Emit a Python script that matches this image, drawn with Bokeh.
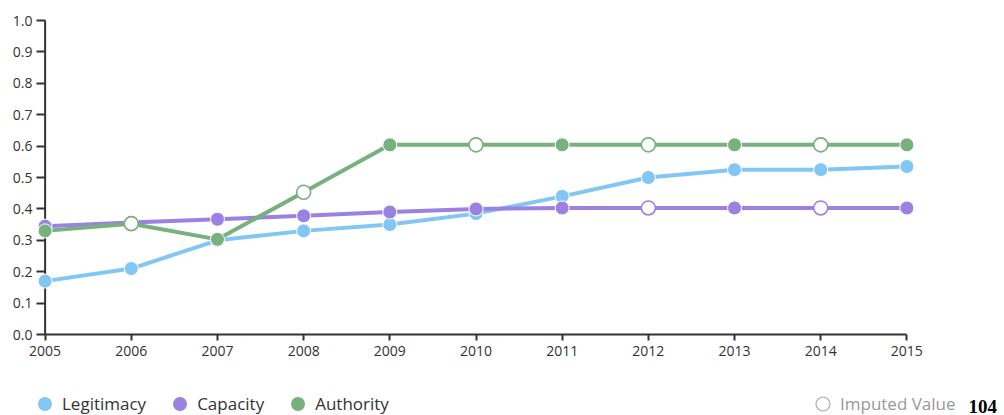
from bokeh.plotting import figure
from bokeh.layouts import column
from bokeh.models import (Range1d, Span, Legend, LegendItem, Label,
                          ColumnDataSource, FixedTicker, PrintfTickFormatter)
from bokeh.embed import file_html
from bokeh.resources import INLINE

# ---------------- data ----------------
years = [2005, 2006, 2007, 2008, 2009, 2010, 2011, 2012, 2013, 2014, 2015]
legitimacy = [0.17, 0.21, 0.30, 0.33, 0.35, 0.385, 0.44, 0.50, 0.525, 0.525, 0.535]
capacity = [0.345, 0.357, 0.367, 0.378, 0.39, 0.40, 0.403, 0.403, 0.403, 0.403, 0.403]
authority = [0.33, 0.353, 0.303, 0.453, 0.604, 0.604, 0.604, 0.604, 0.604, 0.604, 0.604]
legitimacy_imputed = [0, 0, 0, 0, 0, 0, 0, 0, 0, 0, 0]
capacity_imputed = [0, 0, 0, 0, 0, 0, 0, 1, 0, 1, 0]
authority_imputed = [0, 1, 0, 1, 0, 1, 0, 1, 0, 1, 0]
series_names = ["Legitimacy", "Capacity", "Authority"]
series_colors = ["#82c7f4", "#9b81e2", "#78b07e"]
y_ticks = [0.0, 0.1, 0.2, 0.3, 0.4, 0.5, 0.6, 0.7, 0.8, 0.9, 1.0]
imputed_label = "Imputed Value"
page_number = "104"

FONT = "Open Sans"
TEXT = "#333333"

p = figure(frame_width=879, frame_height=314,
           min_border_left=36, min_border_top=20, min_border_right=89,
           min_border_bottom=46,
           x_range=Range1d(2004.9, 2015.1), y_range=Range1d(0, 1.0),
           output_backend="svg", toolbar_location=None)
p.frame_align = False
p.outline_line_color = None
p.xgrid.visible = False
p.ygrid.visible = False
p.background_fill_color = "white"
p.border_fill_color = "white"

# x axis
xa = p.xaxis[0]
xa.ticker = FixedTicker(ticks=years)
xa.bounds = (2005, 2015)
xa.axis_line_color = TEXT
xa.axis_line_width = 2
xa.major_tick_line_color = TEXT
xa.major_tick_line_width = 2
xa.major_tick_in = 0
xa.major_tick_out = 6
xa.minor_tick_line_color = None
xa.major_label_standoff = 5
xa.major_label_text_font = FONT
xa.major_label_text_font_size = "14px"
xa.major_label_text_color = TEXT

# y axis (line drawn as a span at the first year)
ya = p.yaxis[0]
ya.ticker = FixedTicker(ticks=y_ticks)
ya.formatter = PrintfTickFormatter(format="%.1f")
ya.axis_line_color = None
ya.major_tick_line_color = TEXT
ya.major_tick_line_width = 2
ya.major_tick_in = 9
ya.major_tick_out = 0
ya.minor_tick_line_color = None
ya.major_label_standoff = 4
ya.major_label_text_font = FONT
ya.major_label_text_font_size = "14px"
ya.major_label_text_color = TEXT

p.add_layout(Span(location=years[0], dimension="height", line_color=TEXT,
                  line_width=2, level="underlay"))

for vals, imp, col in zip([legitimacy, capacity, authority],
                          [legitimacy_imputed, capacity_imputed, authority_imputed],
                          series_colors):
    src = ColumnDataSource(dict(
        x=years, y=vals,
        fill=["white" if i else col for i in imp],
        line=[col if i else "white" for i in imp],
        lw=[1.6 if i else 1.0 for i in imp],
    ))
    p.line("x", "y", source=src, line_color=col, line_width=4,
           line_join="round", line_cap="round")
    p.scatter("x", "y", source=src, size=14, fill_color="fill",
              line_color="line", line_width="lw")

# ---------------- legend row (separate strip, renderers kept out of view) ----
lg = figure(width=1004, height=35, min_border=0, x_axis_type=None,
            y_axis_type=None, x_range=Range1d(0, 1), y_range=Range1d(0, 1),
            output_backend="svg", toolbar_location=None)
lg.frame_align = False
lg.outline_line_color = None
lg.xgrid.visible = False
lg.ygrid.visible = False

legend_items = []
for name, vals, col in zip(series_names, [legitimacy, capacity, authority],
                           series_colors):
    lr = lg.scatter(x=years[:1], y=vals[:1], size=14, fill_color=col,
                    line_color=None)
    legend_items.append(LegendItem(label=name, renderers=[lr]))
imp_r = lg.scatter(x=years[:1], y=authority[1:2], size=14, fill_color="white",
                   line_color="#aaaaaa", line_width=1.2)

common = dict(orientation="horizontal", border_line_color=None,
              background_fill_alpha=0, padding=0, margin=0,
              glyph_width=35, glyph_height=35, label_standoff=-6, spacing=16,
              label_text_font=FONT, label_text_font_size="17px",
              label_text_color=TEXT)
leg1 = Legend(items=legend_items, location=(27, -6), **common)
lg.add_layout(leg1, "center")
common2 = dict(common)
common2["label_text_color"] = "#999999"
leg2 = Legend(items=[LegendItem(label=imputed_label, renderers=[imp_r])],
              location=(805, -6), **common2)
lg.add_layout(leg2, "center")

lg.add_layout(Label(x=968, y=3, x_units="screen", y_units="screen",
                    text=page_number, text_font="Liberation Serif",
                    text_font_style="bold", text_font_size="19px",
                    text_color="black", text_baseline="bottom"))

layout = column(p, lg, spacing=0)
open("out.html", "w").write(file_html(layout, INLINE))
